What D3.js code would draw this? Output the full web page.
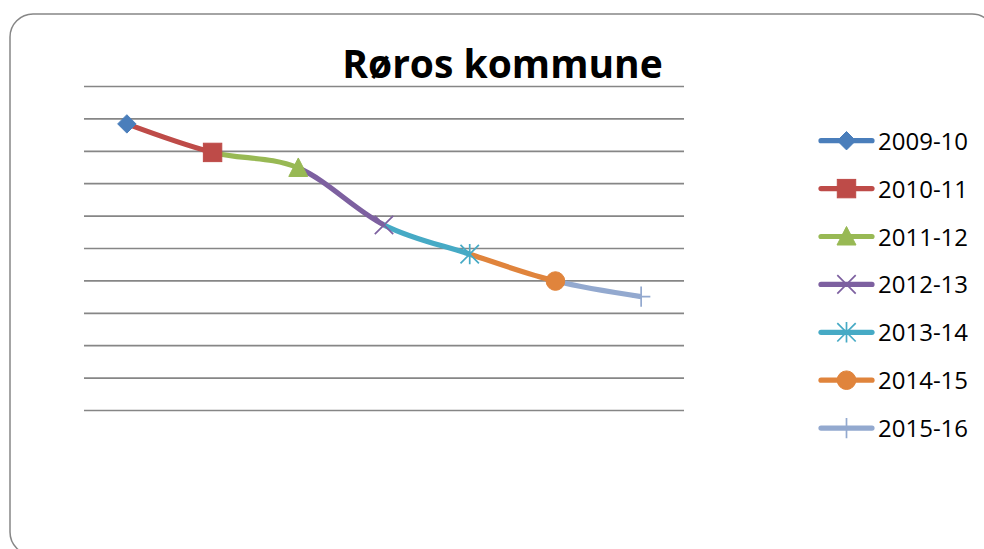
<!DOCTYPE html>
<html>
<head>
<meta charset="utf-8">
<script src="https://cdn.jsdelivr.net/npm/d3@7"></script>
<style>
  html, body { margin: 0; padding: 0; background: #fff; }
  svg { display: block; }
</style>
</head>
<body>
<svg id="chart" width="984" height="549"></svg>
<script>
// ---- data ----
const title = "Røros kommune";
const categories = ["2009-10", "2010-11", "2011-12", "2012-13", "2013-14", "2014-15", "2015-16"];
const values = [88.3, 79.5, 74.7, 57.1, 48.1, 39.8, 35.0];
const yTicks = [0, 10, 20, 30, 40, 50, 60, 70, 80, 90, 100];
const colors = ["#4A7EBB", "#BE4B48", "#98B954", "#7D60A0", "#46AAC5", "#E0843C", "#93A9CF"];
const markers = ["diamond", "square", "triangle", "x", "asterisk", "circle", "plus"];

// ---- layout ----
const W = 984, H = 549;
const plot = { left: 84, right: 684, top: 86, bottom: 410 };

const svg = d3.select("#chart");

// outer rounded frame
svg.append("rect")
  .attr("x", 10).attr("y", 14)
  .attr("width", 985).attr("height", 541)
  .attr("rx", 23).attr("ry", 23)
  .attr("fill", "#fff")
  .attr("stroke", "#868686")
  .attr("stroke-width", 1.5);

const x = d3.scalePoint().domain(categories).range([plot.left, plot.right]).padding(0.5);
const y = d3.scaleLinear().domain([0, 100]).range([plot.bottom, plot.top]);

// gridlines via axis
const yAxis = d3.axisLeft(y).tickValues(yTicks).tickSize(-(plot.right - plot.left)).tickFormat("");
const gAxis = svg.append("g").attr("transform", `translate(${plot.left},0)`).call(yAxis);
gAxis.select(".domain").remove();
gAxis.selectAll(".tick line").attr("stroke", "#868686").attr("stroke-width", 1.7);

// title
svg.append("text")
  .attr("x", 502.5).attr("y", 78)
  .attr("text-anchor", "middle")
  .attr("font-family", "'Open Sans', sans-serif")
  .attr("font-weight", "bold")
  .attr("font-size", 39)
  .attr("fill", "#000")
  .text(title);

// smooth line through all points, coloured per segment (vary colours by point)
const pts = categories.map((c, i) => [x(c), y(values[i])]);
const line = d3.line().curve(d3.curveCardinal.tension(0));
const defs = svg.append("defs");
for (let i = 1; i < pts.length; i++) {
  const id = "seg" + i;
  defs.append("clipPath").attr("id", id)
    .append("rect")
    .attr("x", pts[i - 1][0]).attr("y", 0)
    .attr("width", pts[i][0] - pts[i - 1][0]).attr("height", H);
  svg.append("path")
    .attr("d", line(pts))
    .attr("fill", "none")
    .attr("stroke", colors[i])
    .attr("stroke-width", 5.2)
    .attr("stroke-linejoin", "round")
    .attr("clip-path", `url(#${id})`);
}

// marker drawing
function drawMarker(g, type, cx, cy, color) {
  const s = 9.2;
  if (type === "diamond") {
    g.append("path").attr("d", `M${cx},${cy - s}L${cx + s},${cy}L${cx},${cy + s}L${cx - s},${cy}Z`)
      .attr("fill", color).attr("stroke", color).attr("stroke-width", 1);
  } else if (type === "square") {
    g.append("rect").attr("x", cx - s).attr("y", cy - s).attr("width", 2 * s).attr("height", 2 * s)
      .attr("fill", color).attr("stroke", color).attr("stroke-width", 1);
  } else if (type === "triangle") {
    g.append("path").attr("d", `M${cx},${cy - 10}L${cx + 9.5},${cy + 8.5}L${cx - 9.5},${cy + 8.5}Z`)
      .attr("fill", color).attr("stroke", color).attr("stroke-width", 1);
  } else if (type === "circle") {
    g.append("circle").attr("cx", cx).attr("cy", cy).attr("r", 9.3)
      .attr("fill", color).attr("stroke", color).attr("stroke-width", 1);
  } else if (type === "x") {
    g.append("path").attr("d", `M${cx - s},${cy - s}L${cx + s},${cy + s}M${cx - s},${cy + s}L${cx + s},${cy - s}`)
      .attr("fill", "none").attr("stroke", color).attr("stroke-width", 1.7);
  } else if (type === "asterisk") {
    g.append("path").attr("d", `M${cx - s},${cy - s}L${cx + s},${cy + s}M${cx - s},${cy + s}L${cx + s},${cy - s}M${cx},${cy - s - 1}L${cx},${cy + s + 1}`)
      .attr("fill", "none").attr("stroke", color).attr("stroke-width", 1.7);
  } else if (type === "plus") {
    g.append("path").attr("d", `M${cx - s},${cy}L${cx + s},${cy}M${cx},${cy - s - 1}L${cx},${cy + s + 1}`)
      .attr("fill", "none").attr("stroke", color).attr("stroke-width", 1.7);
  }
}

const gMarkers = svg.append("g");
pts.forEach((p, i) => drawMarker(gMarkers, markers[i], p[0], p[1], colors[i]));

// legend
const legend = svg.append("g");
const legendY0 = 140.7, legendStep = 47.9;
categories.forEach((c, i) => {
  const cy = legendY0 + i * legendStep;
  legend.append("line")
    .attr("x1", 821).attr("x2", 872).attr("y1", cy).attr("y2", cy)
    .attr("stroke", colors[i]).attr("stroke-width", 5.2).attr("stroke-linecap", "round");
  drawMarker(legend, markers[i], 846.5, cy, colors[i]);
  legend.append("text")
    .attr("x", 878).attr("y", cy + 9)
    .attr("font-family", "'Open Sans', sans-serif")
    .attr("font-size", 24)
    .attr("fill", "#000")
    .text(c);
});
</script>
</body>
</html>
